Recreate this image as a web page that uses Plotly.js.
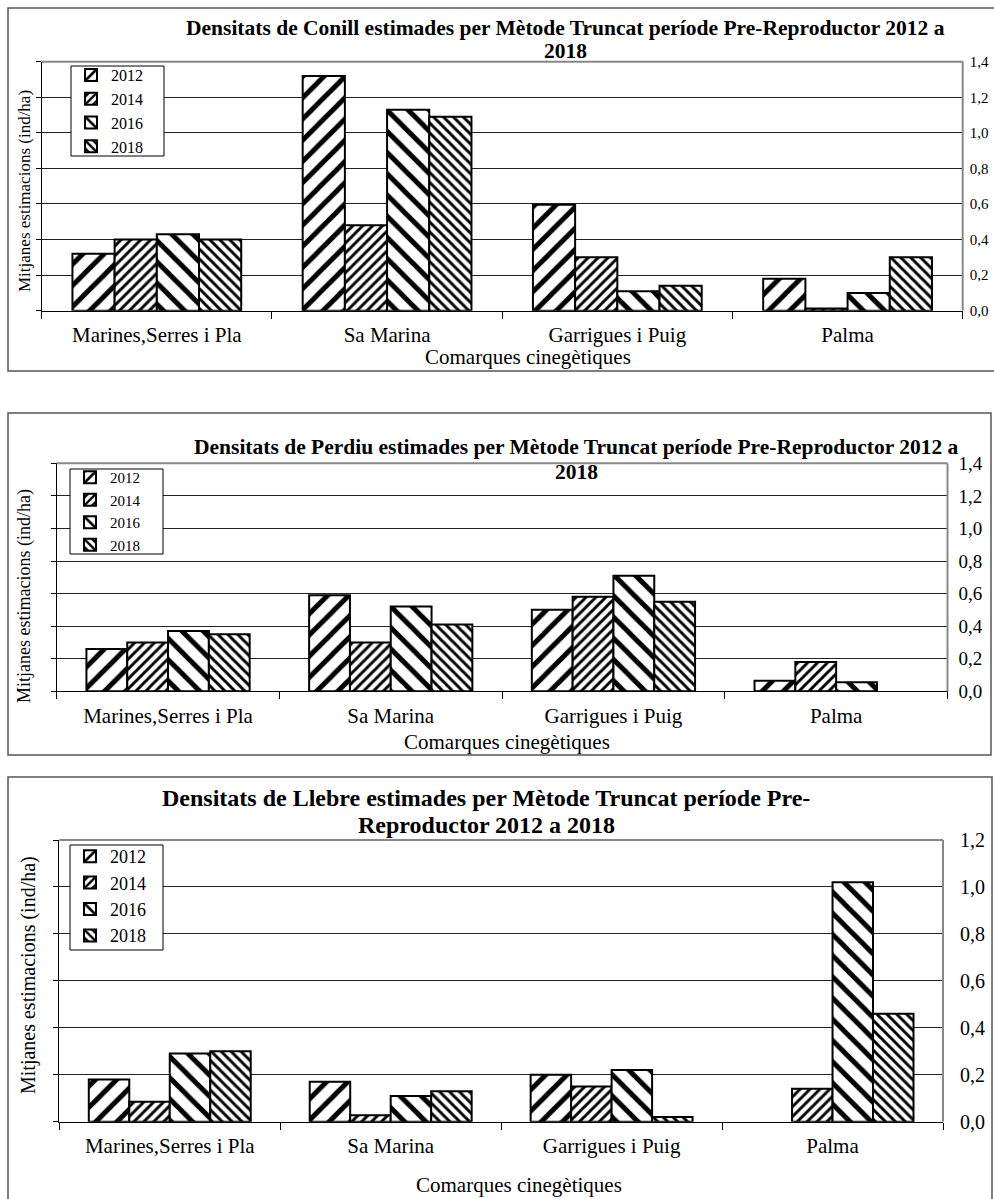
<!DOCTYPE html>
<html><head><meta charset="utf-8">
<script src="https://cdn.plot.ly/plotly-3.0.1.min.js"></script>
<style>html,body{margin:0;padding:0;background:#fff}</style>
</head><body><div id="chart" style="width:994px;height:1199px"></div>
<script>
// ---- data ----
const categories = ["Marines,Serres i Pla", "Sa Marina", "Garrigues i Puig", "Palma"];
const years = ["2012", "2014", "2016", "2018"];

const conill2012 = [0.32, 1.32, 0.595, 0.18];
const conill2014 = [0.40, 0.48, 0.30, 0.013];
const conill2016 = [0.43, 1.13, 0.11, 0.10];
const conill2018 = [0.40, 1.09, 0.14, 0.30];

const perdiu2012 = [0.26, 0.59, 0.50, 0.065];
const perdiu2014 = [0.30, 0.30, 0.58, 0.18];
const perdiu2016 = [0.37, 0.52, 0.71, 0.055];
const perdiu2018 = [0.35, 0.41, 0.55, null];

const llebre2012 = [0.18, 0.17, 0.20, null];
const llebre2014 = [0.085, 0.028, 0.15, 0.14];
const llebre2016 = [0.29, 0.11, 0.22, 1.02];
const llebre2018 = [0.30, 0.13, 0.02, 0.46];

const chartTitles = [
  ["Densitats de Conill estimades per Mètode Truncat període Pre-Reproductor 2012 a", "2018"],
  ["Densitats de Perdiu estimades per Mètode Truncat període Pre-Reproductor 2012 a", "2018"],
  ["Densitats de Llebre estimades per Mètode Truncat període Pre-", "Reproductor 2012 a 2018"]
];
const yTitle = "Mitjanes estimacions (ind/ha)";
const xTitle = "Comarques cinegètiques";
const yMax = [1.4, 1.4, 1.2];

const seriesSets = [
  [conill2012, conill2014, conill2016, conill2018],
  [perdiu2012, perdiu2014, perdiu2016, perdiu2018],
  [llebre2012, llebre2014, llebre2016, llebre2018]
];

// ---- layout helpers ----
const W = 994, H = 1199;
const px = x => x / W;
const py = y => 1 - y / H;
const FONT = "Liberation Serif";

const patterns = [
  {shape: "/", size: 15, solidity: 0.33},
  {shape: "/", size: 7, solidity: 0.42},
  {shape: "\\", size: 15, solidity: 0.33},
  {shape: "\\", size: 7, solidity: 0.42}
];

// plot areas [left, right, top, bottom] in pixels
const areas = [
  [41.7, 962.7, 61.7, 310.7],
  [56.7, 947.5, 463.3, 691.3],
  [59.3, 943.0, 840.0, 1121.7]
];
const boxes = [[8, 1010, 8, 371], [8, 991, 413, 755], [8, 992, 777, 1215]];
const legendBoxes = [[71, 164, 66, 156], [70, 163, 469, 554], [70, 163, 845, 950]];
const legendShift = [8, 8, 7];
const legendFont = [16, 15, 18];
const titlePos = [[565, 28, 51, 21.5], [576, 447, 472, 21.5], [486, 798, 825, 24]];
const yTitlePos = [[25, 191, 17], [24, 596, 18], [28, 975, 20]];
const xTitlePos = [[528, 357], [507, 742], [519, 1185]];
const rightTickFont = [15, 19, 20];
const rightStandoff = [6, 10, 16];

const traces = [];
const layout = {
  width: W, height: H,
  margin: {l: 0, r: 0, t: 0, b: 0},
  paper_bgcolor: "white", plot_bgcolor: "white",
  separators: ",.",
  barmode: "group", bargap: 0.267, bargroupgap: 0,
  font: {family: FONT, color: "black"},
  shapes: [], annotations: []
};

for (let k = 0; k < 3; k++) {
  const n = k + 1;
  const xa = n === 1 ? "x" : "x" + n;
  const ya = n === 1 ? "y" : "y" + n;
  const yr = "y" + (n + 3);
  const legName = n === 1 ? "legend" : "legend" + n;
  const [l, r, t, b] = areas[k];

  seriesSets[k].forEach((vals, i) => {
    traces.push({
      type: "bar", x: categories, y: vals, name: years[i],
      xaxis: xa, yaxis: ya, legend: legName, hoverinfo: "skip",
      marker: {
        color: "white",
        line: {color: "black", width: 2},
        pattern: Object.assign({fgcolor: "black", bgcolor: "white", fillmode: "replace"}, patterns[i])
      }
    });
  });
  // empty helper trace so the right-hand label axis has a subplot
  traces.push({type: "scatter", x: [], y: [], xaxis: xa, yaxis: yr,
    showlegend: false, hoverinfo: "skip", mode: "markers"});

  layout["xaxis" + (n === 1 ? "" : n)] = {
    domain: [px(l), px(r)], anchor: ya, type: "category",
    showline: true, linecolor: "black", linewidth: 1,
    ticks: "outside", tickson: "boundaries", ticklen: 7, tickcolor: "black",
    tickfont: {family: FONT, size: 21, color: "black"},
    ticklabelstandoff: 5,
    showgrid: false, fixedrange: true
  };
  layout["yaxis" + (n === 1 ? "" : n)] = {
    domain: [py(b), py(t)], anchor: xa, range: [0, yMax[k]], autorange: false,
    dtick: 0.2, tick0: 0, showticklabels: false,
    showline: true, linecolor: "black", linewidth: 1,
    ticks: "outside", ticklen: 5, tickcolor: "black",
    showgrid: true, gridcolor: "#222", gridwidth: 1, zeroline: false, fixedrange: true
  };
  layout["yaxis" + (n + 3)] = {
    overlaying: ya, anchor: xa, side: "right", range: [0, yMax[k]], autorange: false,
    dtick: 0.2, tick0: 0, tickformat: ".1f",
    tickfont: {family: FONT, size: rightTickFont[k], color: "black"},
    ticklabelstandoff: rightStandoff[k],
    showgrid: false, zeroline: false, showline: false, ticks: "", fixedrange: true
  };

  const [lx0, lx1, ly0, ly1] = legendBoxes[k];
  layout[legName] = {
    x: px(lx0), y: py(ly0 - legendShift[k]), xanchor: "left", yanchor: "top",
    bgcolor: "rgba(0,0,0,0)", borderwidth: 0,
    font: {family: FONT, size: legendFont[k], color: "black"},
    tracegroupgap: 0, itemclick: false, itemdoubleclick: false
  };

  // outer chart frame
  const [bx0, bx1, by0, by1] = boxes[k];
  layout.shapes.push({type: "rect", xref: "paper", yref: "paper",
    x0: px(bx0), x1: px(bx1), y0: py(by0), y1: py(by1),
    line: {color: "#555", width: 1.5}, layer: "below"});
  // plot-area frame (gray top and right edges)
  layout.shapes.push({type: "line", xref: xa + " domain", yref: ya + " domain",
    x0: 0, x1: 1, y0: 1, y1: 1, line: {color: "#888", width: 2}, layer: "above"});
  layout.shapes.push({type: "line", xref: xa + " domain", yref: ya + " domain",
    x0: 1, x1: 1, y0: 0, y1: 1, line: {color: "#888", width: 2}, layer: "above"});
  // legend frame
  layout.shapes.push({type: "rect", xref: "paper", yref: "paper",
    x0: px(lx0), x1: px(lx1), y0: py(ly0), y1: py(ly1),
    fillcolor: "white", line: {color: "black", width: 1}, layer: "above"});

  // titles
  const [tcx, ty1, ty2, tfs] = titlePos[k];
  layout.annotations.push({xref: "paper", yref: "paper", x: px(tcx), y: py(ty1),
    text: "<b>" + chartTitles[k][0] + "</b>", showarrow: false,
    xanchor: "center", yanchor: "middle", font: {family: FONT, size: tfs, color: "black"}});
  layout.annotations.push({xref: "paper", yref: "paper", x: px(tcx), y: py(ty2),
    text: "<b>" + chartTitles[k][1] + "</b>", showarrow: false,
    xanchor: "center", yanchor: "middle", font: {family: FONT, size: tfs, color: "black"}});
  // y title
  const [yx, yy, yfs] = yTitlePos[k];
  layout.annotations.push({xref: "paper", yref: "paper", x: px(yx), y: py(yy),
    text: yTitle, textangle: -90, showarrow: false,
    xanchor: "center", yanchor: "middle", font: {family: FONT, size: yfs, color: "black"}});
  // x title
  const [xx, xy] = xTitlePos[k];
  layout.annotations.push({xref: "paper", yref: "paper", x: px(xx), y: py(xy),
    text: xTitle, showarrow: false,
    xanchor: "center", yanchor: "middle", font: {family: FONT, size: 21, color: "black"}});
}

Plotly.newPlot("chart", traces, layout, {displayModeBar: false, staticPlot: true});
</script>
</body></html>
